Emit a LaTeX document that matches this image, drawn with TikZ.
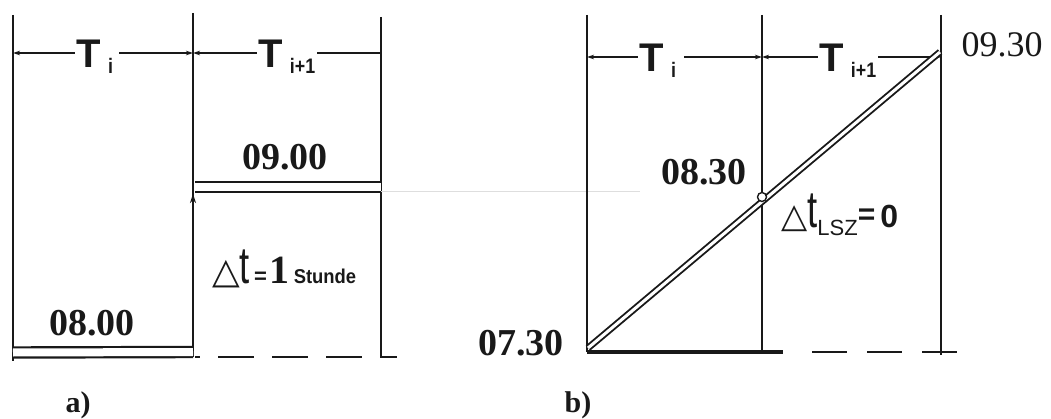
\documentclass[tikz,border=0pt]{standalone}
\usepackage{fontspec}
\setmainfont{Liberation Serif}
\setsansfont{Liberation Sans}
\newfontfamily\symfont{DejaVu Sans}
\usetikzlibrary{arrows.meta,calc,positioning}
\definecolor{inkcol}{RGB}{25,25,25}
\definecolor{faintcol}{RGB}{222,222,222}
\newcommand{\tidx}[2]{{\sffamily\bfseries\fontsize{40}{40}\selectfont #1\,\raisebox{-6pt}{\fontsize{21}{21}\selectfont\scalebox{0.85}[1]{#2}}}}

\begin{document}
\begin{tikzpicture}[x=1pt,y=-1pt,inkcol,
  limit/.style={line width=2.8pt},
  dimline/.style={line width=1.1pt},
  dimtip/.style={-{Stealth[length=7pt,width=4.5pt]}},
  train/.style={double,double distance=8pt,line width=2.2pt},
  slope/.style={double,double distance=3pt,line width=1.9pt},
  clock/.style={font=\fontsize{38}{38}\selectfont\bfseries,inner sep=0pt},
  dashbase/.style={line width=1.8pt,dash pattern=on 36pt off 18pt}]
\useasboundingbox (0,0) rectangle (1051,419);
% panel a: period limits at 13, 193, 381
\coordinate (aL) at (13,53);
\coordinate (aM) at (193,53);
\coordinate (aR) at (381,53);
\draw[limit] (13,15) -- (13,361);
\draw[limit] (193,13) -- (193,357);
\draw[limit] (381,17) -- (381,357);
\node[inner sep=2pt] (ati) at (95,57) {\tidx{T}{i}};
\node[inner sep=2pt] (atn) at (287,57) {\tidx{T}{i+1}};
\draw[dimline,dimtip] (ati.west |- aL) -- (aL);
\draw[dimline,dimtip] (ati.east |- aM) ++(4,0) -- (aM);
\draw[dimline,dimtip] (atn.west |- aM) -- (aM);
\draw[dimline] (atn.east |- aR) -- (aR);
\draw[line width=2.6pt] (366,53) -- (aR);
% trains
\draw[train] (13,352.5) -- (193,352);
\draw[train] (195,187) -- (381,187);
\node[clock] (a800) at (92,323) {08.00};
\node[clock] (a900) at (285,157) {09.00};
\draw[line width=1.2pt,-{Stealth[length=9pt,width=6pt]}] (193,340) -- (193,194);
\draw[dashbase,dash phase=-23pt] (195,357) -- (397,357);
\draw[faintcol,line width=1pt] (381,192) -- (640,192);
\node[anchor=base west,inner sep=0pt] (adt) at (212,284)
  {{\symfont\fontsize{36}{36}\selectfont △}%
   {\sffamily\fontsize{52}{52}\selectfont\scalebox{0.7}[1]{t}}%
   \kern4pt{\sffamily\bfseries\fontsize{22}{22}\selectfont =}%
   \kern3pt{\bfseries\fontsize{40}{40}\selectfont 1}%
   \kern4pt{\sffamily\bfseries\fontsize{20}{20}\selectfont\scalebox{0.92}[1]{Stunde}}};
\node[font=\fontsize{30}{30}\selectfont\bfseries] (alab) at (78,405) {a)};
% panel b: period limits at 587, 762, 941
\coordinate (bL) at (587,57);
\coordinate (bM) at (762,57);
\coordinate (bR) at (941,57);
\draw[limit] (587,15) -- (587,352);
\draw[limit] (762,15) -- (762,352);
\draw[limit] (941,15) -- (941,355);
\node[inner sep=2pt] (bti) at (658,61) {\tidx{T}{i}};
\node[inner sep=2pt] (btn) at (848,61) {\tidx{T}{i+1}};
\draw[dimline,dimtip] (bti.west |- bL) -- (bL);
\draw[dimline,dimtip] (bti.east |- bM) ++(6,0) -- (bM);
\draw[dimline,dimtip] (btn.west |- bM) -- (bM);
\draw[dimline,dimtip] (btn.east |- bR) -- (bR);
\coordinate (bstart) at (588,348);
\coordinate (bend) at (940,52);
\draw[slope] (bstart) -- (bend);
\draw[line width=3.2pt] (587,352) -- (783,352);
\draw[dashbase,dash pattern=on 35pt off 20pt] (812,352) -- (960,352);
\node[draw,circle,fill=white,line width=1.4pt,inner sep=0pt,minimum size=9pt] (bcross) at (762,197) {};
\node[clock] (b730) at (521,343) {07.30};
\node[clock] (b830) at (704,172) {08.30};
\node[font=\fontsize{36}{36}\selectfont,inner sep=0pt] (b930) at (1002,45) {09.30};
\node[anchor=base west,inner sep=0pt] (bdt) at (781,228)
  {{\symfont\fontsize{34}{34}\selectfont △}%
   {\sffamily\fontsize{52}{52}\selectfont\scalebox{0.7}[1]{t}}%
   \raisebox{-8pt}{\sffamily\fontsize{22}{22}\selectfont LSZ}%
   \raisebox{3pt}{\sffamily\bfseries\fontsize{30}{30}\selectfont =}%
   \kern5pt{\sffamily\bfseries\fontsize{32}{32}\selectfont 0}};
\node[font=\fontsize{30}{30}\selectfont\bfseries] (blab) at (578,405) {b)};
\end{tikzpicture}
\end{document}
